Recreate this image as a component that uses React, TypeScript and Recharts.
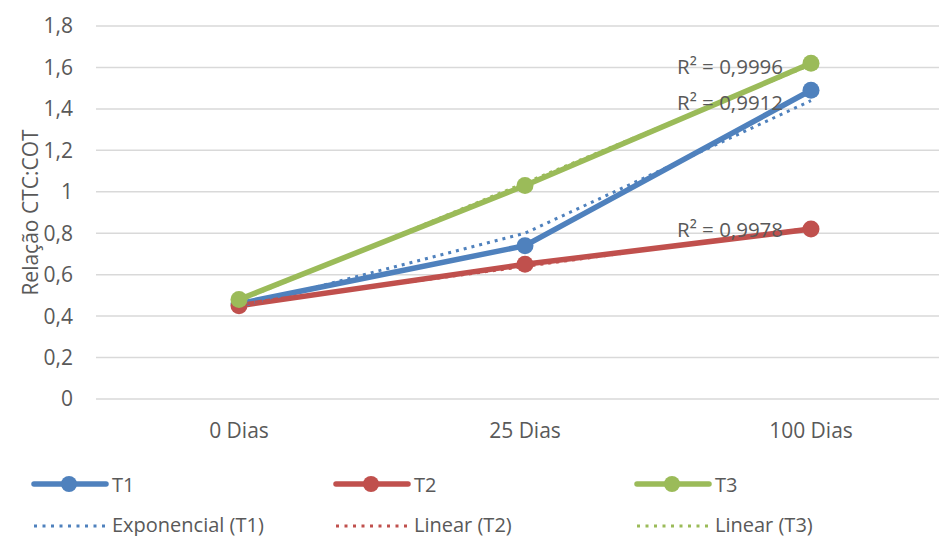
import React from "react";
import {
  CartesianGrid,
  ComposedChart,
  LabelList,
  Line,
  XAxis,
  YAxis,
} from "recharts";

const categories = ["0 Dias", "25 Dias", "100 Dias"];
const t1 = [0.46, 0.74, 1.49];
const t2 = [0.45, 0.65, 0.82];
const t3 = [0.48, 1.03, 1.62];
// trendlines as drawn in the picture
const expT1 = [0.445, 0.8, 1.44];
const linT2 = [0.455, 0.64, 0.825];
const linT3 = [0.473, 1.043, 1.613];
const r2Values = ["0,9912", "0,9978", "0,9996"];
const yTicks = [0, 0.2, 0.4, 0.6, 0.8, 1, 1.2, 1.4, 1.6, 1.8];

const BLUE = "#4F81BD";
const RED = "#C0504D";
const GREEN = "#9BBB59";
const TEXT = "#595959";
const FONT = "'Open Sans', sans-serif";

const data = categories.map((c, i) => ({
  cat: c,
  T1: t1[i],
  T2: t2[i],
  T3: t3[i],
  expT1: expT1[i],
  linT2: linT2[i],
  linT3: linT3[i],
}));

const seriesLegend = [
  { name: "T1", color: BLUE },
  { name: "T2", color: RED },
  { name: "T3", color: GREEN },
];
const trendLegend = [
  { name: "Exponencial (T1)", color: BLUE },
  { name: "Linear (T2)", color: RED },
  { name: "Linear (T3)", color: GREEN },
];

const fmt = (v: number) => String(v).replace(".", ",");

function r2Label(text: string) {
  return (props: any) => {
    const { x, y, index } = props;
    if (index !== categories.length - 1) return null;
    return (
      <text
        x={x - 134}
        y={y + 1}
        dominantBaseline="central"
        fill={TEXT}
        style={{ fontSize: 20.5, fontFamily: FONT }}
      >
        {`R² = ${text}`}
      </text>
    );
  };
}

function YTitle(props: any) {
  const vb = props.viewBox;
  const cy = vb.y + vb.height / 2;
  return (
    <text
      x={30}
      y={cy}
      transform={`rotate(-90, 30, ${cy})`}
      textAnchor="middle"
      dominantBaseline="central"
      fill={TEXT}
      style={{ fontSize: 21, fontFamily: FONT }}
    >
      Relação CTC:COT
    </text>
  );
}

function Legend() {
  const colX = [34, 336, 637];
  return (
    <svg
      width={939}
      height={536}
      style={{ position: "absolute", left: 0, top: 0, pointerEvents: "none" }}
    >
      {seriesLegend.map((s, i) => (
        <g key={s.name}>
          <line
            x1={colX[i]}
            x2={colX[i] + 72}
            y1={484}
            y2={484}
            stroke={s.color}
            strokeWidth={5.5}
            strokeLinecap="round"
          />
          <circle cx={colX[i] + 35} cy={484} r={8} fill={s.color} />
          <text
            x={colX[i] + 78}
            y={484}
            dominantBaseline="central"
            fill={TEXT}
            style={{ fontSize: 20, fontFamily: FONT }}
          >
            {s.name}
          </text>
        </g>
      ))}
      {trendLegend.map((s, i) => (
        <g key={s.name}>
          <line
            x1={colX[i]}
            x2={colX[i] + 72}
            y1={526}
            y2={526}
            stroke={s.color}
            strokeWidth={3}
            strokeDasharray="3 5.5"
          />
          <text
            x={colX[i] + 78}
            y={524}
            dominantBaseline="central"
            fill={TEXT}
            style={{ fontSize: 20, fontFamily: FONT }}
          >
            {s.name}
          </text>
        </g>
      ))}
    </svg>
  );
}

export default function App() {
  return (
    <div
      style={{
        position: "absolute",
        left: 0,
        top: 0,
        width: 939,
        height: 536,
        overflow: "hidden",
        background: "#fff",
        fontFamily: FONT,
      }}
    >
      <ComposedChart
        width={960}
        height={536}
        data={data}
        margin={{ top: 26, right: 6, left: 0, bottom: 107 }}
      >
        <CartesianGrid
          vertical={false}
          stroke="#D9D9D9"
          strokeWidth={1.5}
        />
        <XAxis
          dataKey="cat"
          height={30}
          padding={{ left: 143, right: 143 }}
          axisLine={false}
          tickLine={false}
          tickSize={0}
          tickMargin={24}
          tick={{ fill: TEXT, fontSize: 21, fontFamily: FONT }}
        />
        <YAxis
          width={96}
          domain={[0, 1.8]}
          ticks={yTicks}
          axisLine={false}
          tickLine={false}
          tickSize={0}
          tickMargin={23}
          tickFormatter={fmt}
          tick={{ fill: TEXT, fontSize: 21, fontFamily: FONT }}
          label={{ content: YTitle }}
        />
        <Line
          dataKey="T1"
          stroke={BLUE}
          strokeWidth={5.5}
          dot={{ r: 8.5, fill: BLUE, stroke: BLUE, strokeWidth: 0 }}
          activeDot={false}
          isAnimationActive={false}
        />
        <Line
          dataKey="T2"
          stroke={RED}
          strokeWidth={5.5}
          dot={{ r: 8.5, fill: RED, stroke: RED, strokeWidth: 0 }}
          activeDot={false}
          isAnimationActive={false}
        />
        <Line
          dataKey="T3"
          stroke={GREEN}
          strokeWidth={5.5}
          dot={{ r: 8.5, fill: GREEN, stroke: GREEN, strokeWidth: 0 }}
          activeDot={false}
          isAnimationActive={false}
        />
        <Line
          dataKey="expT1"
          stroke={BLUE}
          strokeWidth={3}
          strokeDasharray="3 5"
          dot={false}
          activeDot={false}
          isAnimationActive={false}
        >
          <LabelList dataKey="expT1" content={r2Label(r2Values[0])} />
        </Line>
        <Line
          dataKey="linT2"
          stroke={RED}
          strokeWidth={3}
          strokeDasharray="3 5"
          dot={false}
          activeDot={false}
          isAnimationActive={false}
        >
          <LabelList dataKey="linT2" content={r2Label(r2Values[1])} />
        </Line>
        <Line
          dataKey="linT3"
          stroke={GREEN}
          strokeWidth={3}
          strokeDasharray="3 5"
          dot={false}
          activeDot={false}
          isAnimationActive={false}
        >
          <LabelList dataKey="linT3" content={r2Label(r2Values[2])} />
        </Line>
      </ComposedChart>
      <Legend />
    </div>
  );
}
